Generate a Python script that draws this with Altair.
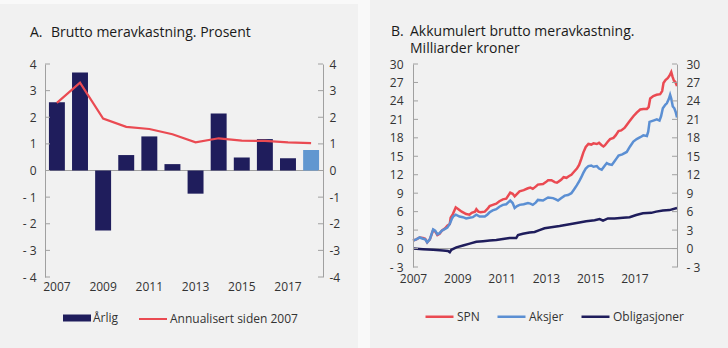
import altair as alt
import pandas as pd

# ---------------- data ----------------
years_a = [str(y) for y in range(2007, 2019)]
arlig = [2.56, 3.68, -2.25, 0.58, 1.28, 0.24, -0.87, 2.14, 0.49, 1.18, 0.46, 0.77]
annualisert = [2.54, 3.30, 1.95, 1.64, 1.56, 1.36, 1.06, 1.21, 1.12, 1.11, 1.06, 1.03]
bar_group = ["Årlig"] * 11 + ["Årlig 2018"]
ticks_a = [-4, -3, -2, -1, 0, 1, 2, 3, 4]
xlabels_a = ["2007", "2009", "2011", "2013", "2015", "2017"]

spn_t = [2007.00, 2007.15, 2007.30, 2007.45, 2007.55, 2007.64, 2007.76, 2007.91, 2008.00, 2008.10,
         2008.20, 2008.30, 2008.45, 2008.55, 2008.66, 2008.70, 2008.80, 2008.93, 2009.05, 2009.20,
         2009.40, 2009.55, 2009.65, 2009.80, 2009.86, 2009.95, 2010.05, 2010.24, 2010.35, 2010.46,
         2010.60, 2010.76, 2010.90, 2011.06, 2011.21, 2011.30, 2011.39, 2011.50, 2011.59, 2011.70,
         2011.81, 2012.00, 2012.19, 2012.30, 2012.41, 2012.55, 2012.64, 2012.87, 2013.00, 2013.10,
         2013.25, 2013.40, 2013.50, 2013.62, 2013.70, 2013.80, 2013.93, 2014.05, 2014.15, 2014.30,
         2014.40, 2014.50, 2014.60, 2014.69, 2014.80, 2014.92, 2015.05, 2015.15, 2015.30, 2015.40,
         2015.52, 2015.60, 2015.67, 2015.80, 2015.90, 2016.05, 2016.15, 2016.28, 2016.40, 2016.55,
         2016.65, 2016.80, 2016.95, 2017.10, 2017.26, 2017.40, 2017.56, 2017.64, 2017.71, 2017.85,
         2018.00, 2018.16, 2018.25, 2018.31, 2018.40, 2018.50, 2018.58, 2018.66, 2018.72, 2018.78,
         2018.84, 2018.92]
spn_v = [1.3, 1.5, 1.8, 1.7, 1.6, 1.0, 1.5, 3.0, 2.8, 2.2,
         2.4, 2.9, 3.3, 3.7, 4.0, 5.0, 5.6, 6.7, 6.4, 6.0,
         5.6, 5.5, 5.8, 6.0, 6.4, 6.0, 5.9, 6.0, 6.4, 6.9,
         7.1, 7.3, 7.7, 8.0, 8.1, 8.6, 9.1, 8.9, 8.5, 8.9,
         9.3, 9.5, 9.8, 9.9, 9.7, 10.1, 10.4, 10.5, 10.8, 11.1,
         11.1, 10.8, 10.7, 11.0, 11.2, 11.6, 11.5, 11.8, 12.0, 12.6,
         13.0, 13.6, 14.6, 15.6, 16.5, 17.0, 16.9, 17.1, 17.0, 17.2,
         16.8, 16.6, 16.8, 17.4, 17.8, 18.0, 18.4, 19.1, 19.2, 19.6,
         20.1, 20.8, 21.5, 22.1, 22.6, 22.7, 22.7, 23.0, 24.4, 24.8,
         25.0, 25.1, 25.6, 26.9, 27.4, 27.7, 28.1, 28.7, 27.9, 27.3,
         27.1, 26.4]

aksjer_t = [2007.00, 2007.15, 2007.30, 2007.45, 2007.55, 2007.64, 2007.76, 2007.91, 2008.00, 2008.10,
            2008.20, 2008.30, 2008.45, 2008.55, 2008.66, 2008.75, 2008.81, 2008.93, 2009.10, 2009.25,
            2009.40, 2009.55, 2009.70, 2009.86, 2010.01, 2010.24, 2010.35, 2010.46, 2010.60, 2010.76,
            2010.90, 2011.06, 2011.21, 2011.30, 2011.39, 2011.50, 2011.59, 2011.70, 2011.81, 2012.00,
            2012.19, 2012.30, 2012.41, 2012.55, 2012.64, 2012.87, 2013.00, 2013.10, 2013.32, 2013.45,
            2013.55, 2013.70, 2013.85, 2014.00, 2014.15, 2014.27, 2014.40, 2014.50, 2014.60, 2014.69,
            2014.80, 2014.92, 2015.05, 2015.15, 2015.30, 2015.40, 2015.52, 2015.62, 2015.75, 2015.85,
            2015.98, 2016.10, 2016.20, 2016.28, 2016.45, 2016.65, 2016.80, 2016.95, 2017.10, 2017.26,
            2017.40, 2017.56, 2017.62, 2017.68, 2017.85, 2018.01, 2018.13, 2018.20, 2018.28, 2018.40,
            2018.46, 2018.55, 2018.61, 2018.66, 2018.73, 2018.80, 2018.86, 2018.92]
aksjer_v = [1.3, 1.5, 1.8, 1.6, 1.5, 1.0, 1.5, 3.1, 2.9, 2.3,
            2.5, 2.9, 3.2, 3.4, 4.0, 4.8, 5.2, 5.5, 5.2, 5.1,
            4.9, 5.0, 5.1, 5.5, 5.2, 5.2, 5.5, 5.9, 6.2, 6.4,
            6.8, 7.1, 7.2, 7.5, 7.8, 7.4, 6.6, 6.9, 7.1, 7.2,
            7.4, 7.3, 7.1, 7.5, 7.9, 7.8, 8.1, 8.3, 8.2, 8.0,
            7.8, 8.2, 8.6, 8.7, 9.0, 9.6, 10.3, 10.9, 11.6, 12.3,
            13.0, 13.4, 13.5, 13.3, 13.4, 13.0, 12.8, 13.3, 13.9, 13.7,
            13.6, 14.2, 14.7, 15.1, 15.3, 15.7, 16.6, 17.4, 17.8, 18.1,
            18.4, 18.3, 19.0, 20.6, 20.8, 21.0, 20.8, 21.5, 22.8, 23.4,
            23.6, 24.3, 25.0, 24.4, 23.1, 22.8, 22.2, 21.3]

oblig_t = [2007.00, 2007.45, 2007.91, 2008.36, 2008.58, 2008.66, 2008.73, 2008.96, 2009.26, 2009.56,
           2009.86, 2010.16, 2010.46, 2010.76, 2011.06, 2011.36, 2011.66, 2011.74, 2011.96, 2012.26,
           2012.49, 2012.71, 2012.94, 2013.24, 2013.62, 2014.07, 2014.45, 2014.82, 2015.20, 2015.43,
           2015.58, 2015.80, 2016.10, 2016.48, 2016.78, 2017.08, 2017.38, 2017.76, 2017.98, 2018.28,
           2018.58, 2018.92]
oblig_v = [0.0, -0.1, -0.2, -0.3, -0.4, -0.6, -0.2, 0.2, 0.5, 0.8,
           1.1, 1.2, 1.3, 1.4, 1.55, 1.7, 1.7, 2.2, 2.4, 2.6,
           2.7, 3.0, 3.3, 3.45, 3.65, 3.95, 4.2, 4.45, 4.6, 4.8,
           4.55, 4.9, 4.9, 5.0, 5.1, 5.45, 5.75, 5.8, 6.0, 6.2,
           6.25, 6.6]

series_b = ["SPN", "Aksjer", "Obligasjoner"]
ticks_b = [-3, 0, 3, 6, 9, 12, 15, 18, 21, 24, 27, 30]
xlabels_b = [2007, 2009, 2011, 2013, 2015, 2017]

# ---------------- style ----------------
FONT = "Open Sans"
BG = "#f1f1f1"
GRAY = "#a0a0a0"
TXT = "#333333"
TITLE = "#1a1a1a"
NAVY = "#1f1d5c"
LIGHT = "#6197d0"
RED = "#ea4a52"
BLUE = "#5b8fd3"
TFS = 14
LFS = 12

# ---------------- panel A ----------------
WA, HA = 278, 213
df_a = pd.DataFrame({"year": years_a, "arlig": arlig, "ann": annualisert, "grp": bar_group,
                     "s": ["Annualisert siden 2007"] * len(years_a)})
ysc_a = alt.Scale(domain=[-4, 4], nice=False)
xsc_a = alt.Scale(domain=years_a, paddingInner=0.31, paddingOuter=0.17)

neg_space = "datum.value < 0 ? '- ' + abs(datum.value) : '' + datum.value"
neg_tight = "datum.value < 0 ? '-' + abs(datum.value) : '' + datum.value"

x_axis_a = alt.Axis(title=None, values=xlabels_a, domain=False, ticks=False, labelAngle=0,
                    labelPadding=4, labelFontSize=12, labelFont=FONT, labelColor=TXT, zindex=1)

bgA = alt.Chart(pd.DataFrame({"a": [0]})).mark_rect(color=BG).encode(
    x=alt.value(-45), x2=alt.value(313), y=alt.value(-60), y2=alt.value(288))

bars = alt.Chart(df_a).mark_bar().encode(
    x=alt.X("year:O", scale=xsc_a, axis=x_axis_a),
    y=alt.Y("arlig:Q", scale=ysc_a,
            axis=alt.Axis(title=None, orient="left", values=ticks_a, labelExpr=neg_space,
                          domainColor=GRAY, ticks=False, grid=False, labelPadding=9,
                          labelFontSize=12, labelFont=FONT, labelColor=TXT, zindex=1)),
    fill=alt.Fill("grp:N", scale=alt.Scale(domain=["Årlig", "Årlig 2018"], range=[NAVY, LIGHT]),
                  legend=alt.Legend(values=["Årlig"], orient="none", legendX=18, legendY=240,
                                    title=None, symbolType="M-1,-0.25H1V0.25H-1Z", symbolSize=784,
                                    symbolStrokeWidth=0, labelOffset=2, labelFontSize=LFS,
                                    labelFont=FONT, labelColor=TXT, padding=0)),
)

zeroA = alt.Chart(pd.DataFrame({"v": [0]})).mark_rule(color=GRAY, strokeWidth=1).encode(
    y=alt.Y("v:Q", scale=ysc_a, axis=None))

lineA = alt.Chart(df_a).mark_line(strokeWidth=2.2).encode(
    x=alt.X("year:O", scale=xsc_a, axis=x_axis_a),
    y=alt.Y("ann:Q", scale=ysc_a, axis=None),
    stroke=alt.Stroke("s:N", scale=alt.Scale(domain=["Annualisert siden 2007"], range=[RED]),
                      legend=alt.Legend(orient="none", legendX=93, legendY=240, title=None,
                                        symbolType="stroke", symbolSize=784, symbolStrokeWidth=2,
                                        labelOffset=2, labelFontSize=LFS, labelFont=FONT,
                                        labelColor=TXT, padding=0)),
)

df_ta = pd.DataFrame({"t": ticks_a})
tickLA = alt.Chart(df_ta).mark_rule(color=GRAY).encode(
    y=alt.Y("t:Q", scale=ysc_a, axis=None), x=alt.value(0), x2=alt.value(5))
tickRA = alt.Chart(df_ta).mark_rule(color=GRAY).encode(
    y=alt.Y("t:Q", scale=ysc_a,
            axis=alt.Axis(title=None, orient="right", values=ticks_a, labelExpr=neg_tight,
                          domainColor=GRAY, ticks=False, grid=False, labelPadding=6,
                          labelFontSize=12, labelFont=FONT, labelColor=TXT, zindex=1)),
    x=alt.value(WA - 5), x2=alt.value(WA))

titleA1 = alt.Chart(pd.DataFrame({"txt": ["A."]})).mark_text(
    align="left", baseline="middle", fontSize=TFS, font=FONT, color=TITLE).encode(
    x=alt.value(-15), y=alt.value(-31), text="txt:N")
titleA2 = alt.Chart(pd.DataFrame({"txt": ["Brutto meravkastning. Prosent"]})).mark_text(
    align="left", baseline="middle", fontSize=TFS, font=FONT, color=TITLE).encode(
    x=alt.value(6), y=alt.value(-31), text="txt:N")

panelA = alt.layer(bgA, zeroA, bars, lineA, tickLA, tickRA, titleA1, titleA2).resolve_axis(
    y="independent").properties(width=WA, height=HA)

# ---------------- panel B ----------------
WB, HB = 264, 203
df_b = pd.concat([
    pd.DataFrame({"t": spn_t, "v": spn_v, "serie": "SPN"}),
    pd.DataFrame({"t": aksjer_t, "v": aksjer_v, "serie": "Aksjer"}),
    pd.DataFrame({"t": oblig_t, "v": oblig_v, "serie": "Obligasjoner"}),
])
ysc_b = alt.Scale(domain=[-3, 30], nice=False)
xsc_b = alt.Scale(domain=[2007, 2018.92], nice=False, zero=False)

bgB = alt.Chart(pd.DataFrame({"a": [0]})).mark_rect(color=BG).encode(
    x=alt.value(-43), x2=alt.value(315), y=alt.value(-64), y2=alt.value(284))

zeroB = alt.Chart(pd.DataFrame({"v": [0]})).mark_rule(color=GRAY, strokeWidth=1).encode(
    y=alt.Y("v:Q", scale=ysc_b, axis=None))

linesB = alt.Chart(df_b).mark_line(strokeWidth=2.5).encode(
    x=alt.X("t:Q", scale=xsc_b,
            axis=alt.Axis(title=None, values=xlabels_b, format="d", domain=False, ticks=False,
                          grid=False, labelPadding=6, labelFontSize=12, labelFont=FONT,
                          labelColor=TXT, labelFlush=False, labelOverlap=False, zindex=1)),
    y=alt.Y("v:Q", scale=ysc_b,
            axis=alt.Axis(title=None, orient="left", values=ticks_b, labelExpr=neg_space,
                          domainColor=GRAY, ticks=False, grid=False, labelPadding=10,
                          labelFontSize=12, labelFont=FONT, labelColor=TXT, zindex=1)),
    stroke=alt.Stroke("serie:N", scale=alt.Scale(domain=series_b, range=[RED, BLUE, NAVY]),
                      legend=alt.Legend(orient="none", legendX=11, legendY=237, title=None,
                                        direction="horizontal", symbolType="stroke",
                                        symbolSize=784, symbolStrokeWidth=2.5, labelOffset=2,
                                        columnPadding=12, labelFontSize=LFS, labelFont=FONT,
                                        labelColor=TXT, padding=0)),
    detail="serie:N",
)

df_tb = pd.DataFrame({"t": ticks_b})
tickLB = alt.Chart(df_tb).mark_rule(color=GRAY).encode(
    y=alt.Y("t:Q", scale=ysc_b, axis=None), x=alt.value(0), x2=alt.value(5))
tickRB = alt.Chart(df_tb).mark_rule(color=GRAY).encode(
    y=alt.Y("t:Q", scale=ysc_b,
            axis=alt.Axis(title=None, orient="right", values=ticks_b, labelExpr=neg_space,
                          domainColor=GRAY, ticks=False, grid=False, labelPadding=9,
                          labelFontSize=12, labelFont=FONT, labelColor=TXT, zindex=1)),
    x=alt.value(WB - 5), x2=alt.value(WB))

titleB1 = alt.Chart(pd.DataFrame({"txt": ["B."]})).mark_text(
    align="left", baseline="middle", fontSize=TFS, font=FONT, color=TITLE).encode(
    x=alt.value(-22), y=alt.value(-32.5), text="txt:N")
titleB2 = alt.Chart(pd.DataFrame({"txt": ["Akkumulert brutto meravkastning.|Milliarder kroner"]})).mark_text(
    align="left", baseline="middle", fontSize=TFS, font=FONT, color=TITLE,
    lineBreak="|", lineHeight=17).encode(
    x=alt.value(-3), y=alt.value(-32.5), text="txt:N")

panelB = alt.layer(bgB, zeroB, linesB, tickLB, tickRB, titleB1, titleB2).resolve_axis(
    y="independent").properties(width=WB, height=HB)

chart = alt.hconcat(panelA, panelB, spacing=12).resolve_scale(
    fill="independent", stroke="independent").properties(
    padding=0, background="#f9f9f9").configure_view(stroke=None)

chart.save("out.html", embed_options={"renderer": "svg", "actions": False})
